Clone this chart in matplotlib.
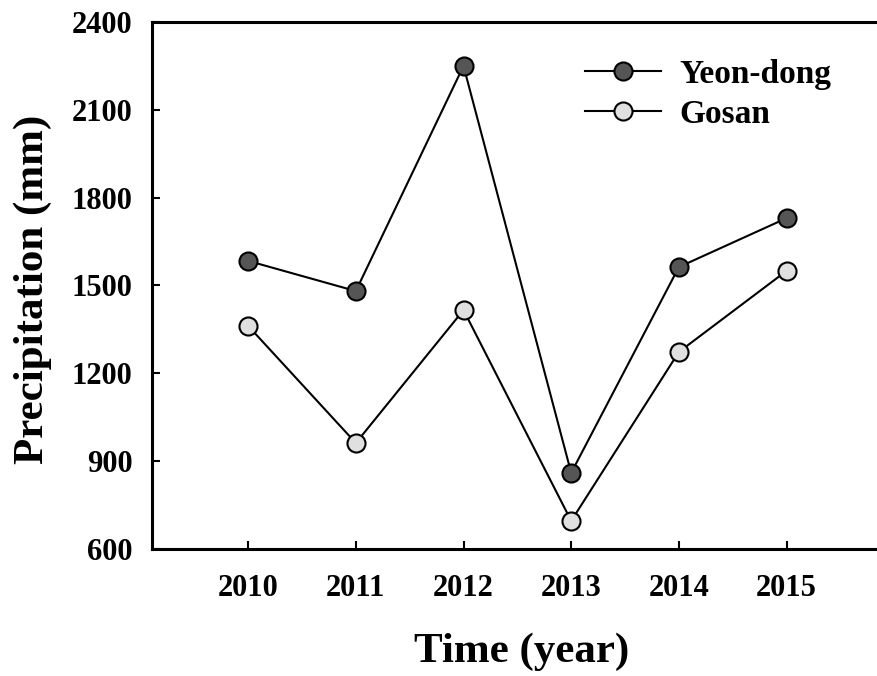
import matplotlib
matplotlib.use("Agg")
import matplotlib.pyplot as plt

years = [2010, 2011, 2012, 2013, 2014, 2015]
yeondong = [1584, 1481, 2250, 860, 1563, 1730]
gosan = [1362, 962, 1416, 696, 1273, 1550]
yticks = [600, 900, 1200, 1500, 1800, 2100, 2400]

plt.rcParams['font.family'] = ['Liberation Serif', 'DejaVu Serif']
plt.rcParams['font.weight'] = 'bold'

W, H = 877, 676
fig = plt.figure(figsize=(W/100, H/100), dpi=100)
ax = fig.add_axes([152/W, 1 - 549/H, (W - 152)/W, (549 - 22)/H])

ax.plot(years, yeondong, '-o', color='black', lw=1.5, markersize=13,
        markerfacecolor='#555555', markeredgecolor='black', markeredgewidth=1.5, label='Yeon-dong')
ax.plot(years, gosan, '-o', color='black', lw=1.5, markersize=13,
        markerfacecolor='#e0e0e0', markeredgecolor='black', markeredgewidth=1.5, label='Gosan')

ax.set_xlim(2009.107, 2015.84)
ax.set_ylim(600, 2400)
ax.set_xticks(years)
ax.set_yticks(yticks)
ax.tick_params(direction='in', length=6, width=1.5, labelsize=22)
ax.tick_params(axis='y', pad=14)
ax.tick_params(axis='x', pad=18)
for lab in ax.get_xticklabels() + ax.get_yticklabels():
    lab.set_fontweight('bold')
ax.spines['right'].set_visible(False)
for s in ['left', 'bottom', 'top']:
    ax.spines[s].set_linewidth(2.2)

xl = ax.set_xlabel('Time (year)', fontsize=31, fontweight='bold')
ax.xaxis.set_label_coords((522 - 152)/(W - 152), (549 - 652)/(549 - 22))
xl.set_va('center')
yl = ax.set_ylabel('Precipitation (mm)', fontsize=31, fontweight='bold')
ax.yaxis.set_label_coords((33 - 152)/(W - 152), (549 - 289)/(549 - 22))
yl.set_va('center')

fs_px = 24 * 100 / 72
leg = ax.legend(loc='upper left', bbox_to_anchor=(585/W, 1 - 59/H),
                bbox_transform=fig.transFigure, frameon=False, borderpad=0,
                borderaxespad=0, fontsize=24, handlelength=76/fs_px,
                handletextpad=18/fs_px, labelspacing=0.27)
for t in leg.get_texts():
    t.set_fontweight('bold')

fig.savefig('out.png', dpi=100)
